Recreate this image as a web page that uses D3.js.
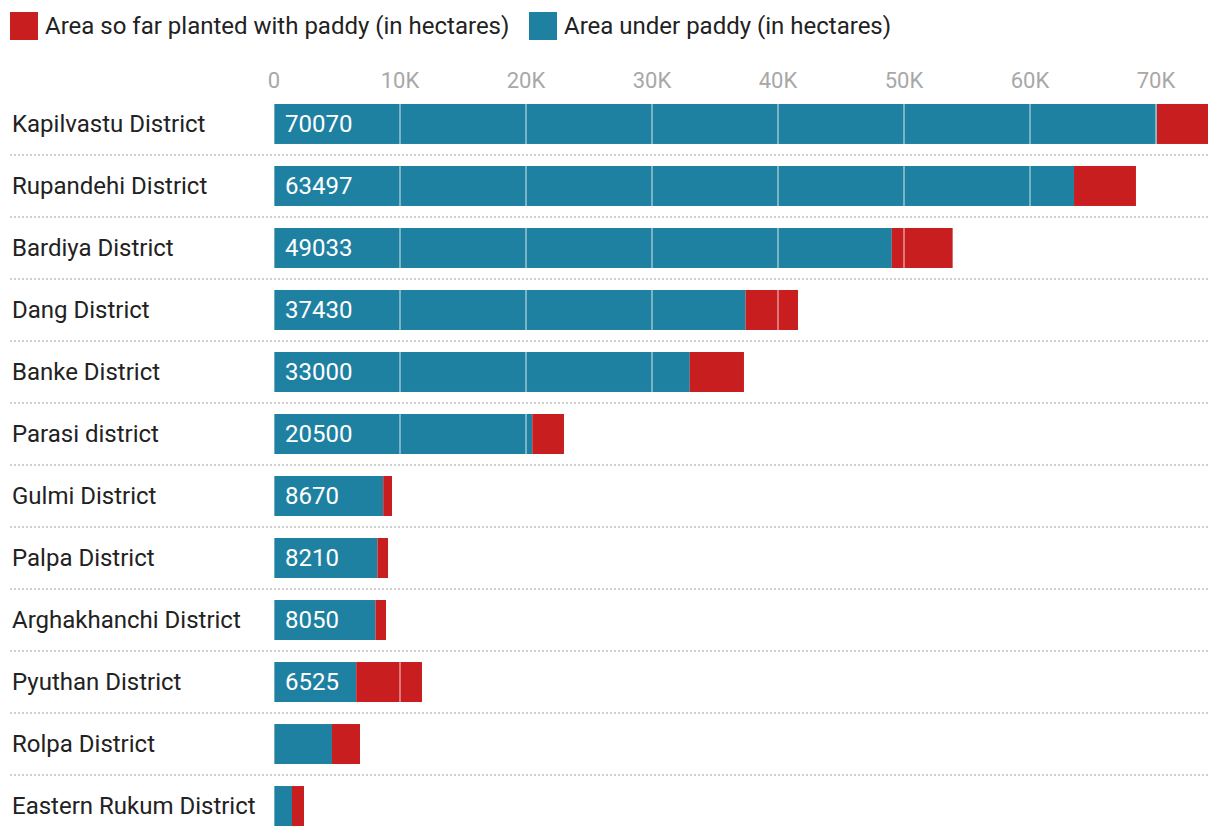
<!DOCTYPE html>
<html><head><meta charset="utf-8">
<script src="https://cdn.jsdelivr.net/npm/d3@7"></script>
<style>
body{margin:0;background:#fff;font-family:Roboto,"Noto Sans",sans-serif;}
</style></head>
<body><svg id="chart" width="1220" height="838"></svg>
<script>
const districts = ["Kapilvastu District","Rupandehi District","Bardiya District","Dang District","Banke District","Parasi district","Gulmi District","Palpa District","Arghakhanchi District","Pyuthan District","Rolpa District","Eastern Rukum District"];
const areaUnder = [70070,63497,49033,37430,33000,20500,8670,8210,8050,6525,4600,1430];
const areaPlanted = [4060,4915,4830,4160,4300,2515,695,840,840,5220,2225,950];
const showLabel = [true,true,true,true,true,true,true,true,true,true,false,false];
const tickValues = [0,10000,20000,30000,40000,50000,60000,70000];
const tickLabels = ["0","10K","20K","30K","40K","50K","60K","70K"];
const legendLabels = ["Area so far planted with paddy (in hectares)","Area under paddy (in hectares)"];

const blue = "#1f81a1", red = "#c81e1f";
const svg = d3.select("#chart");
const totals = areaUnder.map((v,i)=>v+areaPlanted[i]);
const x = d3.scaleLinear().domain([0, d3.max(totals)]).range([274,1208]);
const y = d3.scaleBand().domain(districts).range([93,837]).paddingInner(0.355).paddingOuter(0.177);

// legend
const leg = svg.append("g");
const legColors = [red, blue];
const legX = [10, 529];
legendLabels.forEach((t,i)=>{
  leg.append("rect").attr("x",legX[i]).attr("y",12).attr("width",28).attr("height",28).attr("fill",legColors[i]);
  leg.append("text").attr("x",legX[i]+35).attr("y",26).attr("dy","0.35em").attr("font-size",24).attr("fill","#222").text(t);
});

// axis labels
svg.append("g").selectAll("text").data(tickValues).join("text")
  .attr("x",d=>x(d)).attr("y",80).attr("text-anchor","middle").attr("dy","0.35em")
  .attr("font-size",22).attr("fill","#a8a8a8").text((d,i)=>tickLabels[i]);

// separators
const step = y.step();
svg.append("g").selectAll("line").data(districts.slice(0,-1)).join("line")
  .attr("x1",10).attr("x2",1208)
  .attr("y1",d=>y(d)+y.bandwidth()/2+step/2).attr("y2",d=>y(d)+y.bandwidth()/2+step/2)
  .attr("stroke","#cfcfcf").attr("stroke-width",2).attr("stroke-dasharray","2,2");

// bars
const g = svg.append("g");
g.selectAll("rect.under").data(districts).join("rect").attr("class","under")
  .attr("x",x(0)).attr("y",d=>y(d)).attr("height",y.bandwidth())
  .attr("width",(d,i)=>x(areaUnder[i])-x(0)).attr("fill",blue);
g.selectAll("rect.planted").data(districts).join("rect").attr("class","planted")
  .attr("x",(d,i)=>x(areaUnder[i])).attr("y",d=>y(d)).attr("height",y.bandwidth())
  .attr("width",(d,i)=>x(totals[i])-x(areaUnder[i])).attr("fill",red);

// gridlines over bars
districts.forEach((d,i)=>{
  tickValues.forEach(t=>{
    if (t===0 || t>=totals[i]) return;
    g.append("line").attr("x1",x(t)).attr("x2",x(t)).attr("y1",y(d)).attr("y2",y(d)+y.bandwidth())
      .attr("stroke","#fff").attr("stroke-opacity",0.4).attr("stroke-width",2);
  });
});
g.selectAll("line.zero").data(districts).join("line")
  .attr("x1",x(0)+0.5).attr("x2",x(0)+0.5).attr("y1",d=>y(d)).attr("y2",d=>y(d)+y.bandwidth())
  .attr("stroke","#fff").attr("stroke-opacity",0.35).attr("stroke-width",1);

// value labels
g.selectAll("text.val").data(districts).join("text").attr("class","val")
  .filter((d,i)=>showLabel[i])
  .attr("x",x(0)+11).attr("y",d=>y(d)+y.bandwidth()/2).attr("dy","0.35em")
  .attr("font-size",24).attr("fill","#fff").text(d=>areaUnder[districts.indexOf(d)]);

// category labels
svg.append("g").selectAll("text").data(districts).join("text")
  .attr("x",12).attr("y",d=>y(d)+y.bandwidth()/2).attr("dy","0.35em")
  .attr("font-size",24).attr("fill","#222").text(d=>d);
</script></body></html>
